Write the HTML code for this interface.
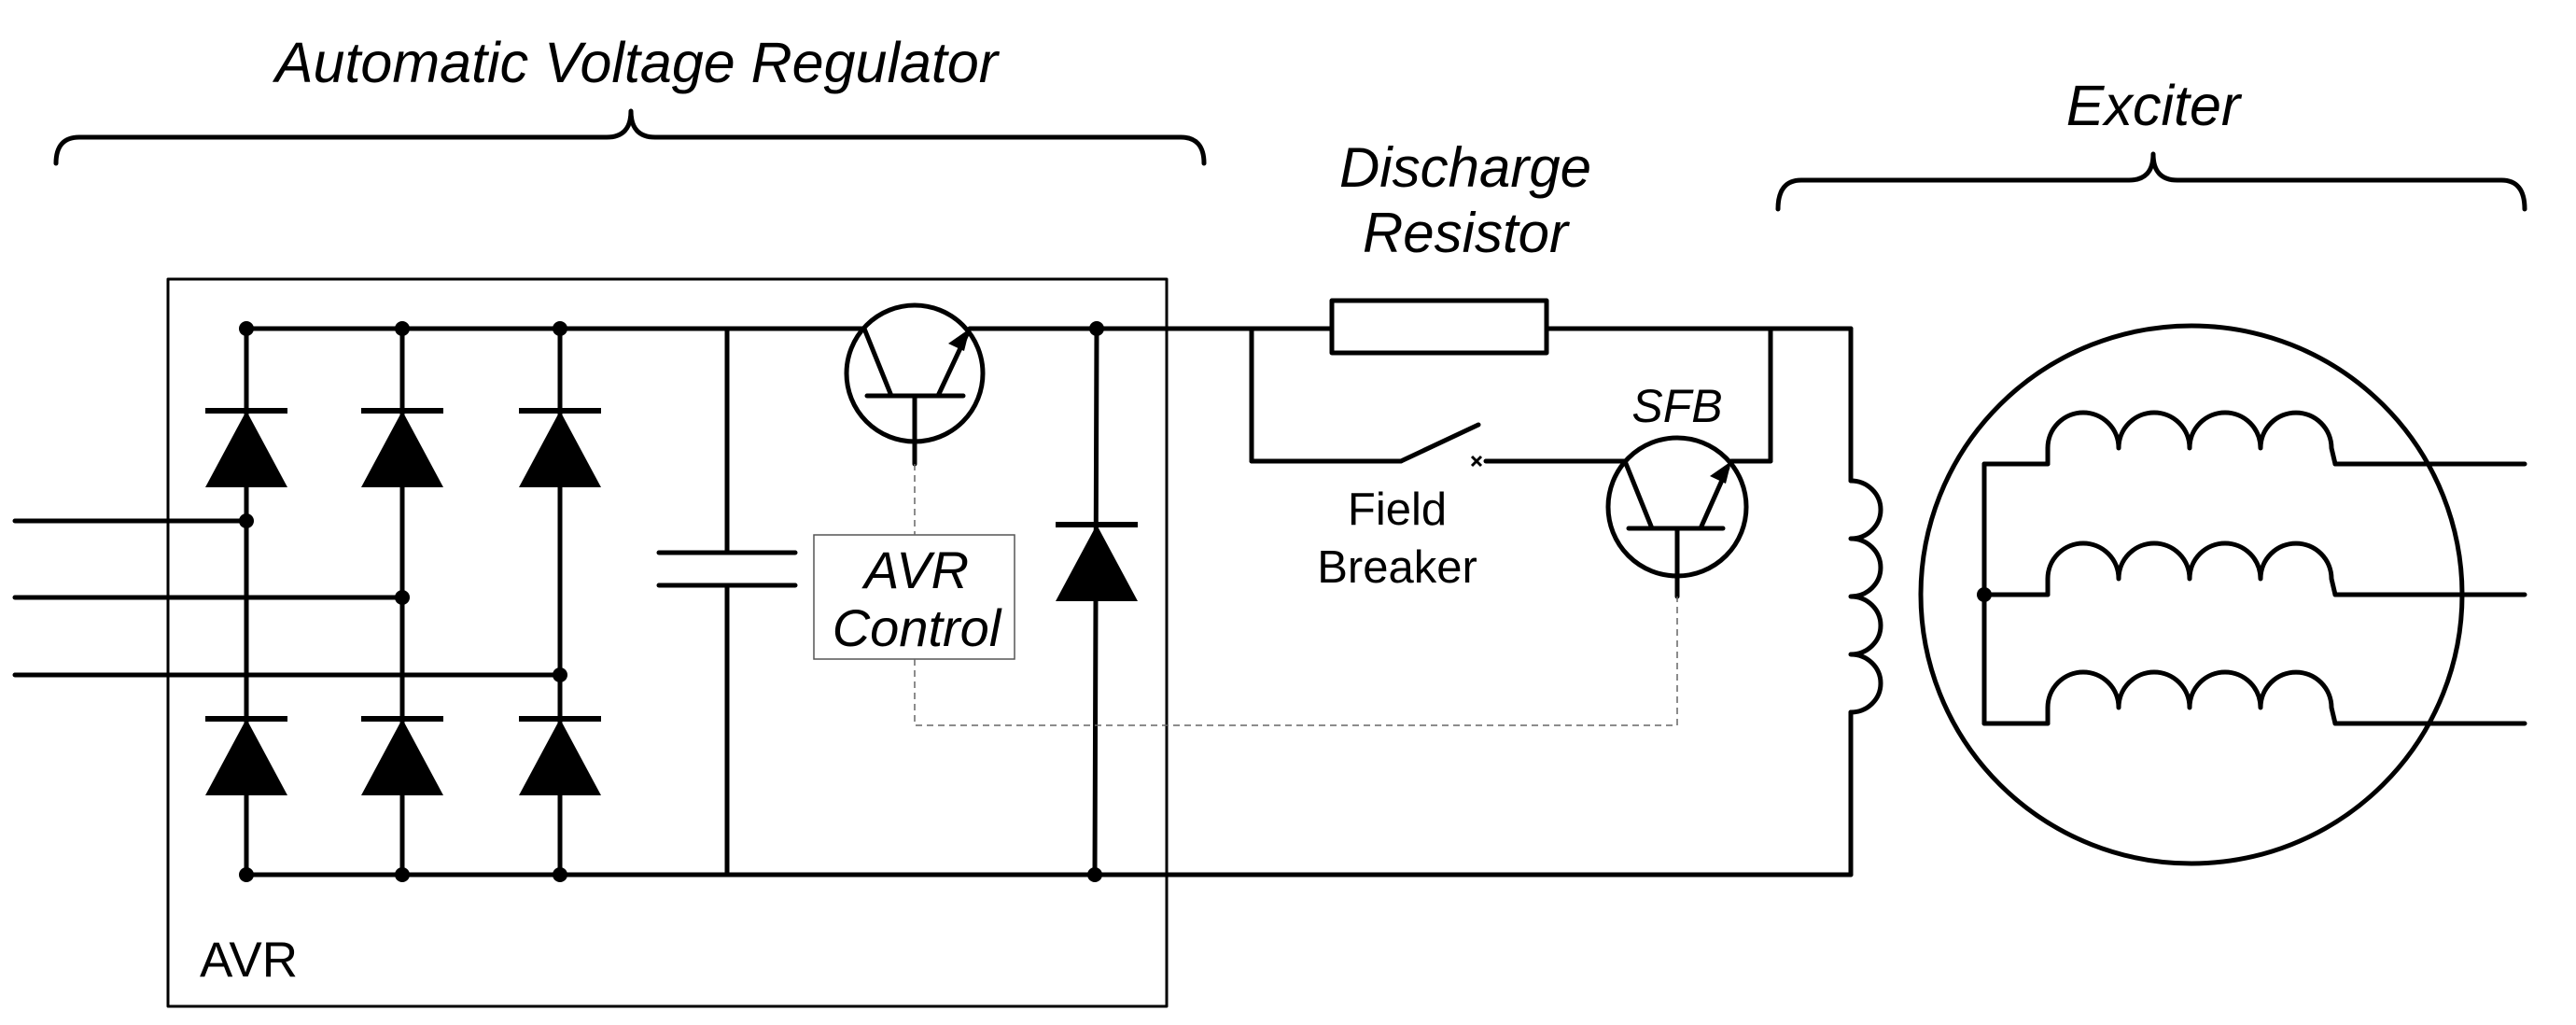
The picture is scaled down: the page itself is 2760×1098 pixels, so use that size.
<!DOCTYPE html>
<html><head><meta charset="utf-8"><style>
html,body{margin:0;padding:0;background:#fff}
svg{display:block}
text{font-family:"Liberation Sans",Arial,sans-serif;fill:#000}
.it{font-style:italic}
</style></head><body>
<svg width="2760" height="1098" viewBox="0 0 2760 1098" xmlns="http://www.w3.org/2000/svg">
<defs>
<g id="dio">
<line x1="-44" y1="0" x2="44" y2="0" stroke="#000" stroke-width="6"/>
<polygon points="0,0 -44,82 44,82" fill="#000"/>
</g>
</defs>
<g fill="none" stroke="#000" stroke-linecap="round" stroke-linejoin="round">
<path d="M60,175 Q60,147 85,147 L650,147 Q676,147 676,119 Q676,147 702,147 L1265,147 Q1290,147 1290,175" stroke-width="5"/>
<path d="M1905,224 Q1905,193 1930,193 L2281,193 Q2307,193 2307,165 Q2307,193 2333,193 L2680,193 Q2705,193 2705,224" stroke-width="5"/>
<rect x="180" y="299" width="1070" height="779" stroke-width="3"/>
<g stroke-width="5">
<line x1="264" y1="352" x2="924" y2="352"/>
<line x1="1039" y1="352" x2="1983" y2="352"/>
<line x1="264" y1="937" x2="1983" y2="937"/>
<line x1="264" y1="352" x2="264" y2="937"/>
<line x1="431" y1="352" x2="431" y2="937"/>
<line x1="600" y1="352" x2="600" y2="937"/>
<line x1="16" y1="558" x2="264" y2="558"/>
<line x1="16" y1="640" x2="431" y2="640"/>
<line x1="16" y1="723" x2="600" y2="723"/>
<line x1="779" y1="352" x2="779" y2="592"/>
<line x1="779" y1="627" x2="779" y2="937"/>
<line x1="706" y1="592" x2="852" y2="592"/>
<line x1="706" y1="627" x2="852" y2="627"/>
<line x1="1175" y1="352" x2="1173" y2="937"/>
<circle cx="980" cy="400" r="73"/>
<line x1="929" y1="424" x2="1032" y2="424"/>
<line x1="980" y1="424" x2="980" y2="497"/>
<line x1="926" y1="352" x2="955" y2="424"/>
<line x1="1005" y1="424" x2="1036" y2="358"/>
<line x1="1341" y1="352" x2="1341" y2="494"/>
<line x1="1341" y1="494" x2="1501" y2="494"/>
<line x1="1501" y1="494" x2="1584" y2="455"/>
<line x1="1592" y1="494" x2="1741" y2="494"/>
<line x1="1855" y1="494" x2="1897" y2="494"/>
<line x1="1897" y1="494" x2="1897" y2="352"/>
<circle cx="1797" cy="543" r="74"/>
<line x1="1745" y1="566" x2="1846" y2="566"/>
<line x1="1797" y1="566" x2="1797" y2="639"/>
<line x1="1741" y1="494" x2="1770" y2="566"/>
<line x1="1822" y1="566" x2="1851" y2="501"/>
<line x1="1983" y1="352" x2="1983" y2="515"/>
<path d="M1983,515 A32,31 0 0 1 1983,577 A32,31 0 0 1 1983,639 A32,31 0 0 1 1983,701 A32,31 0 0 1 1983,763"/>
<line x1="1983" y1="763" x2="1983" y2="937"/>
<ellipse cx="2348" cy="637" rx="290" ry="288"/>
<line x1="2126" y1="497" x2="2126" y2="775"/>
<g id="w1">
<line x1="2126" y1="497" x2="2194" y2="497"/>
<path d="M2194,497 L2194,480 A38,38 0 0 1 2270,480 A38,38 0 0 1 2346,480 A38,38 0 0 1 2422,480 A38,38 0 0 1 2498,480 L2502,497"/>
<line x1="2502" y1="497" x2="2705" y2="497"/>
</g>
<use href="#w1" y="140"/>
<use href="#w1" y="278"/>
</g>
<rect x="1427" y="322" width="230" height="56" fill="#fff" stroke="#000" stroke-width="5"/>
</g>
<polygon points="1039,352 1016,368 1033,376" fill="#000"/>
<polygon points="1855,494 1832,510 1849,518" fill="#000"/>
<g stroke="#000" stroke-width="3"><line x1="1577" y1="489" x2="1587" y2="499"/><line x1="1587" y1="489" x2="1577" y2="499"/></g>
<use href="#dio" x="264" y="440"/><use href="#dio" x="431" y="440"/><use href="#dio" x="600" y="440"/>
<use href="#dio" x="264" y="770"/><use href="#dio" x="431" y="770"/><use href="#dio" x="600" y="770"/>
<use href="#dio" x="1175" y="562"/>
<g fill="#000">
<circle cx="264" cy="352" r="8"/><circle cx="431" cy="352" r="8"/><circle cx="600" cy="352" r="8"/>
<circle cx="264" cy="937" r="8"/><circle cx="431" cy="937" r="8"/><circle cx="600" cy="937" r="8"/>
<circle cx="264" cy="558" r="8"/><circle cx="431" cy="640" r="8"/><circle cx="600" cy="723" r="8"/>
<circle cx="1175" cy="352" r="8"/><circle cx="1173" cy="937" r="8"/>
<circle cx="2126" cy="637" r="8"/>
</g>
<rect x="872" y="573" width="215" height="133" fill="#fff" stroke="#555" stroke-width="1.5"/>
<path d="M980,497 L980,573 M980,706 L980,777 L1797,777 L1797,639" fill="none" stroke="#666" stroke-width="1.5" stroke-dasharray="7,5"/>
<text class="it" x="682" y="88" font-size="61" text-anchor="middle">Automatic Voltage Regulator</text>
<text class="it" x="1570" y="200" font-size="60" text-anchor="middle">Discharge</text>
<text class="it" x="1570" y="270" font-size="60" text-anchor="middle">Resistor</text>
<text class="it" x="2307" y="134" font-size="61" text-anchor="middle">Exciter</text>
<text class="it" x="1797" y="452" font-size="50" text-anchor="middle">SFB</text>
<text x="1497" y="562" font-size="49" text-anchor="middle">Field</text>
<text x="1497" y="624" font-size="49" text-anchor="middle">Breaker</text>
<text class="it" x="982" y="630" font-size="56" text-anchor="middle">AVR</text>
<text class="it" x="982" y="692" font-size="56" text-anchor="middle">Control</text>
<text x="214" y="1046" font-size="53">AVR</text>
</svg>
</body></html>
